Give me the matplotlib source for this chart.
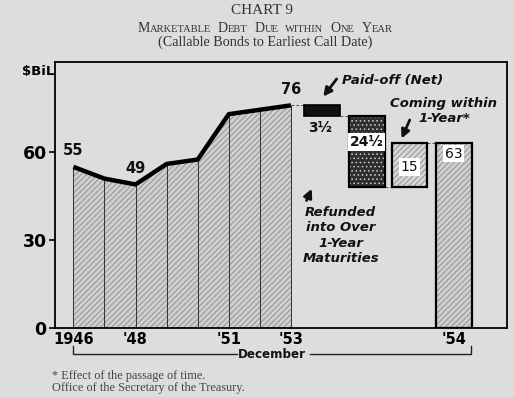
import numpy as np
import matplotlib
matplotlib.use('Agg')
import matplotlib.pyplot as plt
from matplotlib.offsetbox import TextArea, HPacker, AnchoredOffsetbox

# marketable debt due within one year, December of each year ($ billions)
years = [1946, 1947, 1948, 1949, 1950, 1951, 1952, 1953]
debt_due = [55, 51, 49, 56, 57.5, 73, 74.5, 76]
point_labels = {1946: '55', 1948: '49', 1953: '76'}

# changes during 1954
paid_off = 3.5
refunded = 24.5
coming_within = 15
debt_1954 = 63

xtick_years = ['1946', "'48", "'51", "'53", "'54"]

BG = '#dddde0'
plt.rcParams['hatch.linewidth'] = 0.6


def small_caps(text, big, small, **kw):
    # crude small caps: capital letters big, the rest uppercased and smaller
    words = []
    for w in text.split():
        parts = []
        rest = w
        if w[0].isupper():
            parts.append(TextArea(w[0], textprops=dict(size=big, **kw)))
            rest = w[1:]
        if rest:
            parts.append(TextArea(rest.upper(), textprops=dict(size=small, **kw)))
        words.append(HPacker(children=parts, align='baseline', pad=0, sep=0))
    return HPacker(children=words, align='baseline', pad=0, sep=5)


fig = plt.figure(figsize=(5.14, 3.97), dpi=100, facecolor=BG)
ax = fig.add_axes([55/514, 1 - 328/397, 452/514, 266/397])
ax.set_facecolor(BG)

x = np.arange(len(years))

# shaded area under the curve + year lines
ax.fill_between(x, debt_due, facecolor='#cfcfd2', hatch='//////',
                edgecolor='#8a8a8a', linewidth=0, zorder=1)
ax.vlines(x, 0, debt_due, color='#303030', lw=0.7, zorder=2)
ax.plot(x, debt_due, color='black', lw=3.2, solid_capstyle='butt', zorder=4)

for i, yr in enumerate(years):
    if yr in point_labels:
        ax.text(x[i], debt_due[i] + 3, point_labels[yr], ha='center',
                va='bottom', fontsize=10.5, fontweight='bold', color='#111')

# positions of the 1954 bars (layout only)
last = x[-1]
pos_paid, pos_ref, pos_com, pos_54 = 8.0, 9.44, 10.82, 12.24
w = 1.14

top = debt_due[-1]
after_paid = top - paid_off
after_ref = after_paid - refunded
after_com = after_ref + coming_within

# paid-off (black)
ax.bar(pos_paid, paid_off, bottom=after_paid, width=w, color='#111',
       edgecolor='black', lw=1.2, zorder=3)
# refunded (dark, white dots)
ax.bar(pos_ref, refunded, bottom=after_ref, width=w, color='#2e2e2e',
       hatch='....', edgecolor='#cfcfcf', lw=0, zorder=3)
ax.bar(pos_ref, refunded, bottom=after_ref, width=w, fill=False,
       edgecolor='black', lw=1.6, zorder=3)
# coming within 1 year
ax.bar(pos_com, coming_within, bottom=after_ref, width=w, color='#d6d6d9',
       hatch='//////', edgecolor='#8a8a8a', lw=0, zorder=3)
ax.bar(pos_com, coming_within, bottom=after_ref, width=w, fill=False,
       edgecolor='black', lw=1.6, zorder=3)
# december 1954
ax.bar(pos_54, debt_1954, width=w, color='#cfcfd2', hatch='//////',
       edgecolor='#8a8a8a', lw=0, zorder=3)
ax.bar(pos_54, debt_1954, width=w, fill=False, edgecolor='black', lw=1.6,
       zorder=3)

# dashed connectors
dash = dict(color='#555', lw=0.7, ls=(0, (3, 2)), zorder=2)
ax.plot([last, pos_paid - w/2], [top, top], **dash)
ax.plot([pos_paid + w/2, pos_ref - w/2], [after_paid, after_paid], **dash)
ax.plot([pos_ref + w/2, pos_com - w/2], [after_ref, after_ref], **dash)
ax.plot([pos_com + w/2, pos_54 - w/2], [after_com, after_com], **dash)

# value labels
ax.text(pos_paid - 0.05, after_paid - 2, '3½', ha='center', va='top',
        fontsize=10, fontweight='bold', color='#111')
box = dict(boxstyle='square,pad=0.12', fc='white', ec='none')
ax.text(pos_ref, 63.5, '24½', ha='center', va='center', fontsize=10,
        fontweight='bold', color='#111', bbox=box, zorder=5)
ax.text(pos_com, 55, '15', ha='center', va='center', fontsize=10,
        color='#111', bbox=box, zorder=5)
ax.text(pos_54, 59.5, '63', ha='center', va='center', fontsize=10,
        color='#111', bbox=box, zorder=5)

# annotations
note = dict(fontsize=9.5, fontweight='bold', fontstyle='italic', color='#111')
arrow = dict(arrowstyle='-|>,head_length=0.5,head_width=0.25', lw=2,
             color='#111', shrinkA=0, shrinkB=0)
ax.annotate('', xy=(8.04, 79), xytext=(8.47, 85), arrowprops=arrow)
ax.text(10.27, 84.4, 'Paid-off (Net)', ha='center', va='center', **note)
ax.annotate('', xy=(10.56, 64.7), xytext=(10.82, 71), arrowprops=arrow)
ax.text(11.92, 74.2, 'Coming within\n1-Year*', ha='center', va='center',
        linespacing=1.2, **note)
ax.annotate('', xy=(7.67, 47.5), xytext=(7.5, 43.5), arrowprops=arrow)
ax.text(8.6, 31.6, 'Refunded\ninto Over\n1-Year\nMaturities', ha='center',
        va='center', linespacing=1.25, **note)

# axes
ax.set_xlim(-0.59, 13.95)
ax.set_ylim(0, 90.8)
ax.set_yticks([0, 30, 60])
ax.set_yticklabels(['0', '30', '60'], fontsize=12.5, fontweight='bold')
ax.set_xticks([0, 2, 5, 7, pos_54])
ax.set_xticklabels(xtick_years, fontsize=10.5, fontweight='bold')
ax.tick_params(axis='y', direction='out', length=4, width=1.2, pad=2)
ax.tick_params(axis='x', length=0, pad=3)
for s in ax.spines.values():
    s.set_linewidth(1.3)

fig.text(22/514, 1 - 72/397, '$BiL', fontsize=9.5, fontweight='bold',
         va='center', ha='left')

# december bracket
y_br = 1 - 354/397
y_tk = 1 - 346/397
fig.add_artist(plt.Line2D([73/514, 73/514, 237/514], [y_tk, y_br, y_br],
                          color='#222', lw=1.0))
fig.add_artist(plt.Line2D([310/514, 471/514, 471/514], [y_br, y_br, y_tk],
                          color='#222', lw=1.0))
fig.text(272/514, y_br, 'December', ha='center', va='center', fontsize=8.6,
         fontweight='bold', color='#111')

# titles
fig.text(0.51, 1 - 10/397, 'CHART 9', ha='center', va='center',
         fontsize=11, family='Liberation Serif', color='#333')
sc = small_caps('Marketable Debt Due within One Year', 10, 7.6,
                family='Liberation Serif', color='#333')
fig.add_artist(AnchoredOffsetbox(loc='center', child=sc, pad=0, borderpad=0,
                                 frameon=False, bbox_to_anchor=(0.515, 1 - 29/397),
                                 bbox_transform=fig.transFigure))
fig.text(0.515, 1 - 42/397, '(Callable Bonds to Earliest Call Date)',
         ha='center', va='center', fontsize=10.2, family='Liberation Serif',
         color='#333')

# footnotes
fig.text(52/514, 1 - 376/397, '* Effect of the passage of time.',
         ha='left', va='center', fontsize=8.8, family='Liberation Serif',
         color='#444')
fig.text(52/514, 1 - 388/397, 'Office of the Secretary of the Treasury.',
         ha='left', va='center', fontsize=8.8, family='Liberation Serif',
         color='#444')

fig.savefig('out.png', dpi=100, facecolor=BG)
